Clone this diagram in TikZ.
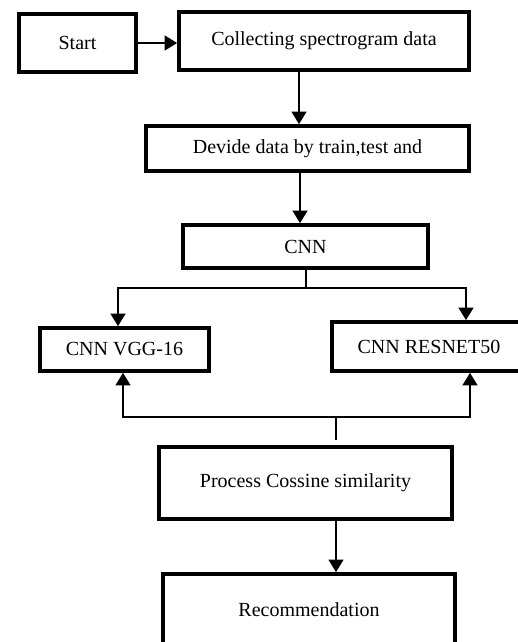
\documentclass[tikz,border=0pt]{standalone}
\usepackage{fontspec}
\setmainfont{Liberation Serif}
\usetikzlibrary{arrows.meta}
\begin{document}
\begin{tikzpicture}[x=1pt,y=-1pt,
  box/.style={draw, line width=3.8pt, inner sep=0pt, font=\fontsize{20}{24}\selectfont},
  conn/.style={line width=1.3pt},
  arr/.style={conn, -{Triangle[length=12.5pt,width=15pt]}}]
\useasboundingbox (0,0) rectangle (518,642);
\clip (0,0) rectangle (518,642);
% boxes
\node[box, minimum width=117pt, minimum height=58pt] (start) at (77.5,43) {Start};
\node[box, minimum width=290pt, minimum height=58pt] (collect) at (324,41) {Collecting spectrogram data};
\node[box, minimum width=323pt, minimum height=45pt] (devide) at (307.5,148.5) {Devide data by train,test and};
\node[box, minimum width=245pt, minimum height=43pt] (cnn) at (305.5,246.5) {CNN};
\node[box, minimum width=169pt, minimum height=43pt] (vgg) at (124.5,349.5) {CNN VGG-16};
\node[box, minimum width=194pt, minimum height=49pt] (resnet) at (429,346.5) {CNN RESNET50};
\node[box, minimum width=293pt, minimum height=72pt] (process) at (305.5,483) {Process Cossine similarity};
\node[box, minimum width=292pt, minimum height=72pt] (rec) at (309,610) {Recommendation};
% helper coordinates
\coordinate (a1) at (299,0);
\coordinate (a2) at (300,0);
\coordinate (b) at (306,288);
\coordinate (bl) at (118,0);
\coordinate (br) at (466,0);
\coordinate (m) at (336,417);
\coordinate (mfree) at (336,440);
\coordinate (ul) at (123,0);
\coordinate (ur) at (470,0);
% connectors
\draw[arr] (start.east) -- (start.east -| collect.west);
\draw[arr] (a1 |- collect.south) -- (a1 |- devide.north);
\draw[arr] (a2 |- devide.south) -- (a2 |- cnn.north);
\draw[conn] (b |- cnn.south) -- (b);
\draw[arr] (b) -| (bl |- vgg.north);
\draw[arr] (b) -| (br |- resnet.north);
\draw[conn] (m) -- (mfree);
\draw[arr] (m) -| (ul |- vgg.south);
\draw[arr] (m) -| (ur |- resnet.south);
\draw[arr] (m |- process.south) -- (m |- rec.north);
\end{tikzpicture}
\end{document}
